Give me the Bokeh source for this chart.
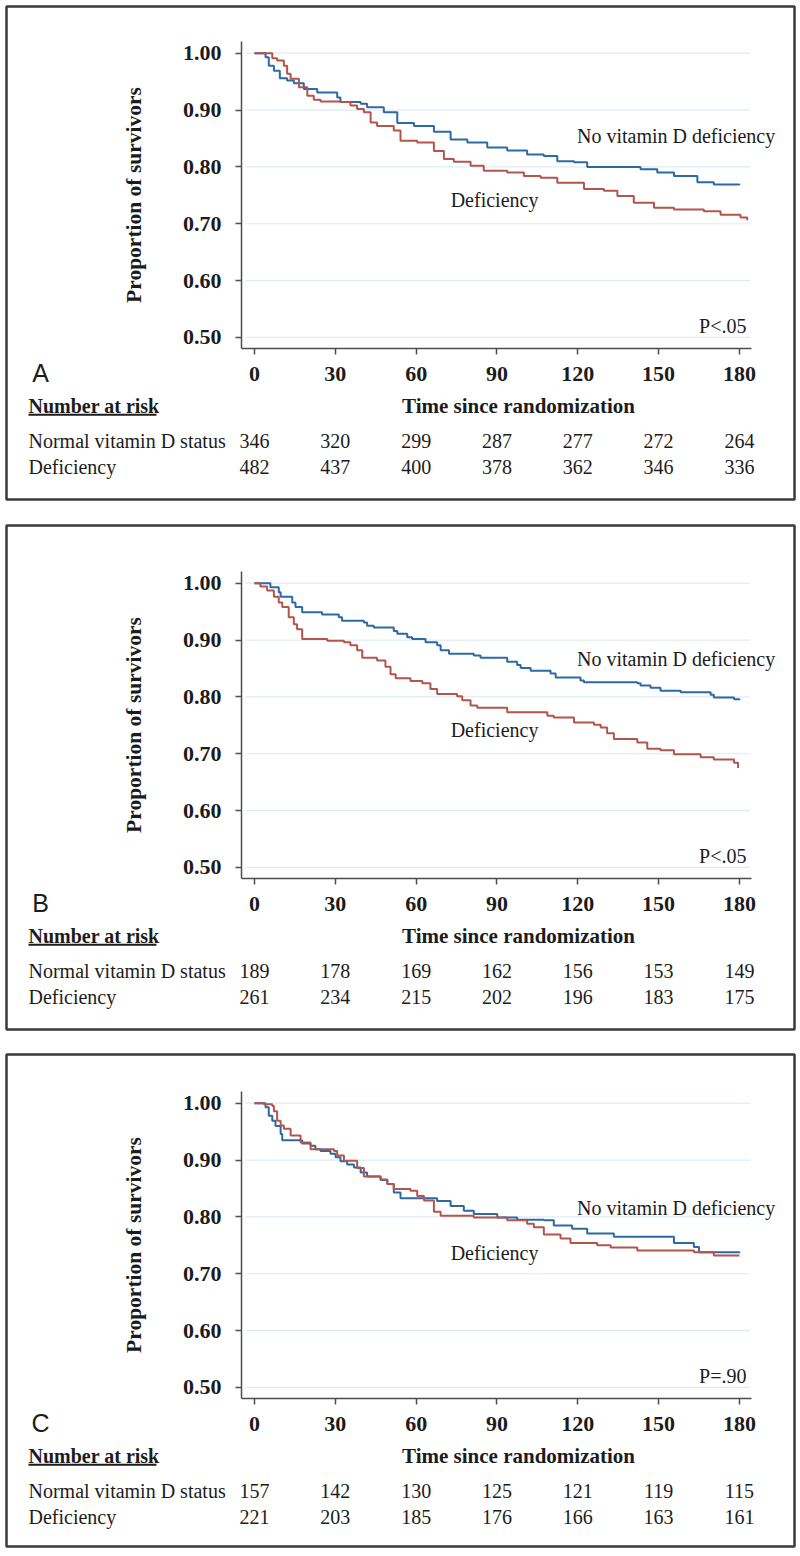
from bokeh.plotting import figure
from bokeh.layouts import column
from bokeh.models import Range1d, FixedTicker, PrintfTickFormatter, LinearAxis
from bokeh.core.properties import value
from bokeh.embed import file_html
from bokeh.resources import INLINE

# ---------------- data ----------------
time_ticks = [0, 30, 60, 90, 120, 150, 180]
surv_ticks = [0.5, 0.6, 0.7, 0.8, 0.9, 1.0]

# Panel A
a_t_normal = [0, 4.1, 5.3, 7.2, 9.4, 12.1, 14.6, 18.3, 23.3, 30.7, 31.9, 39.4, 41.8, 48.0, 53.0,
              59.2, 66.6, 72.8, 79.0, 86.4, 93.8, 101.2, 107.4, 112.4, 118.6, 123.5, 143.3,
              149.5, 155.7, 164.4, 170.5, 180]
a_s_normal = [1.0, 0.993, 0.978, 0.969, 0.956, 0.952, 0.947, 0.937, 0.931, 0.922, 0.914, 0.911,
              0.905, 0.896, 0.877, 0.872, 0.862, 0.848, 0.843, 0.834, 0.829, 0.822, 0.819, 0.810,
              0.808, 0.800, 0.796, 0.790, 0.784, 0.773, 0.769, 0.768]
a_t_defic = [0, 6.6, 8.4, 10.9, 12.1, 13.4, 16.5, 19.6, 22.0, 24.5, 31.9, 35.6, 38.1, 40.6, 43.1,
             45.5, 51.7, 54.2, 60.4, 66.6, 70.3, 74.0, 80.2, 85.1, 93.8, 100.0, 106.2, 112.4,
             122.3, 129.7, 134.7, 140.8, 148.3, 155.7, 166.8, 173.0, 180.4, 182.9]
a_s_defic = [1.0, 0.991, 0.987, 0.978, 0.964, 0.955, 0.940, 0.925, 0.918, 0.915, 0.914, 0.908,
             0.902, 0.896, 0.878, 0.872, 0.864, 0.846, 0.843, 0.828, 0.814, 0.809, 0.802, 0.793,
             0.790, 0.784, 0.781, 0.772, 0.761, 0.758, 0.749, 0.737, 0.728, 0.725, 0.722, 0.716,
             0.711, 0.706]
a_risk_normal = [346, 320, 299, 287, 277, 272, 264]
a_risk_defic = [482, 437, 400, 378, 362, 346, 336]

# Panel B
b_t_normal = [0, 5.9, 9.0, 9.7, 14.0, 15.2, 17.7, 25.1, 31.3, 32.5, 40.6, 41.8, 44.3, 51.7, 53.0,
              56.7, 58.5, 63.5, 67.8, 69.1, 72.2, 81.4, 83.9, 93.8, 97.5, 98.8, 102.5, 109.9,
              111.8, 121.0, 122.3, 142.1, 143.3, 147.0, 150.7, 158.2, 169.3, 170.5, 178.0, 180]
b_s_normal = [1.0, 0.993, 0.984, 0.976, 0.966, 0.958, 0.949, 0.945, 0.940, 0.934, 0.931, 0.925,
              0.922, 0.916, 0.911, 0.905, 0.902, 0.896, 0.891, 0.882, 0.876, 0.873, 0.869, 0.862,
              0.856, 0.851, 0.846, 0.841, 0.834, 0.829, 0.826, 0.824, 0.820, 0.816, 0.811, 0.808,
              0.804, 0.799, 0.796, 0.794]
b_t_defic = [0, 2.2, 4.7, 7.2, 9.0, 10.3, 12.7, 14.6, 15.8, 17.7, 27.0, 33.2, 35.6, 38.1, 40.0,
             45.5, 48.6, 50.5, 52.4, 57.9, 62.3, 65.3, 67.8, 75.2, 77.1, 80.2, 82.7, 93.8, 108.7,
             111.1, 118.6, 126.0, 128.5, 130.9, 133.4, 142.1, 145.8, 150.7, 155.7, 165.6, 170.5,
             178.0, 179.5]
b_s_defic = [1.0, 0.994, 0.987, 0.976, 0.966, 0.958, 0.940, 0.928, 0.919, 0.902, 0.899, 0.896,
             0.891, 0.882, 0.869, 0.864, 0.853, 0.840, 0.833, 0.828, 0.824, 0.814, 0.805, 0.801,
             0.794, 0.785, 0.781, 0.773, 0.767, 0.764, 0.755, 0.751, 0.746, 0.736, 0.726, 0.720,
             0.709, 0.706, 0.699, 0.694, 0.690, 0.684, 0.675]
b_risk_normal = [189, 178, 169, 162, 156, 153, 149]
b_risk_defic = [261, 234, 215, 202, 196, 183, 175]

# Panel C
c_t_normal = [0, 4.1, 5.3, 6.6, 7.8, 9.7, 10.3, 17.7, 20.8, 22.6, 24.5, 28.2, 30.1, 31.9, 34.4,
              36.9, 39.4, 41.8, 46.8, 49.3, 51.7, 54.2, 67.8, 72.8, 77.7, 81.4, 90.1, 97.5, 107.4,
              111.1, 117.9, 123.5, 133.4, 155.7, 163.1, 165.0, 180]
c_s_normal = [1.0, 0.993, 0.978, 0.969, 0.960, 0.946, 0.935, 0.929, 0.925, 0.919, 0.916, 0.911,
              0.905, 0.898, 0.892, 0.887, 0.878, 0.871, 0.865, 0.858, 0.843, 0.833, 0.828, 0.819,
              0.811, 0.805, 0.799, 0.795, 0.794, 0.785, 0.779, 0.771, 0.765, 0.754, 0.747, 0.738,
              0.736]
c_t_defic = [0, 3.5, 6.6, 7.2, 8.4, 9.7, 10.9, 13.4, 17.1, 20.8, 29.5, 30.7, 33.2, 38.1, 40.6,
             46.8, 49.3, 51.7, 57.9, 60.4, 62.9, 66.6, 69.1, 81.4, 93.8, 101.2, 103.7, 107.4,
             113.6, 117.3, 127.2, 132.2, 142.1, 163.1, 170.5, 180]
c_s_defic = [1.0, 0.998, 0.995, 0.986, 0.969, 0.961, 0.955, 0.943, 0.931, 0.919, 0.916, 0.908,
             0.899, 0.886, 0.871, 0.866, 0.858, 0.849, 0.846, 0.837, 0.829, 0.809, 0.802, 0.799,
             0.794, 0.788, 0.782, 0.769, 0.762, 0.754, 0.750, 0.746, 0.741, 0.738, 0.732, 0.732]
c_risk_normal = [157, 142, 130, 125, 121, 119, 115]
c_risk_defic = [221, 203, 185, 176, 166, 163, 161]

p_values = ["P<.05", "P<.05", "P=.90"]
panel_letters = ["A", "B", "C"]
row_names = ["Normal vitamin D status", "Deficiency"]
curve_names = ["No vitamin D deficiency", "Deficiency"]
x_title = "Time since randomization"
y_title = "Proportion of survivors"
risk_title = "Number at risk"

# ---------------- style ----------------
SERIF = "Liberation Serif"
SANS = "Liberation Sans"
BLUE = "#2c69a5"
RED = "#b4554c"
INK = "#1c1c1c"
AXIS = "#4d4d4d"
GRID = "#e0ebf5"
BOX = "#3a3a3a"

X_AX, X_END = -4.83, 184.45      # extent of the x axis (data units)
Y_AX, Y_TOP = 0.48, 1.02         # extent of the y axis
PXU = 568.5                      # pixels per unit of proportion


def below(off):
    """data y for a point `off` pixels below the x axis"""
    return Y_AX - off / PXU


def panel(letter, tn, sn, td, sd, rn, rd, ptxt, yr, top_pad, frame_h, lab_n_y, lab_d_y):
    p = figure(frame_width=788, frame_height=frame_h,
               min_border_left=6, min_border_right=5,
               min_border_top=top_pad, min_border_bottom=5,
               x_range=Range1d(-92.06, 200.45), y_range=Range1d(*yr),
               x_axis_type=None, y_axis_type=None,
               output_backend="svg", toolbar_location=None,
               background_fill_color="white", border_fill_color="white",
               outline_line_color=BOX, outline_line_width=2.5)
    p.xgrid.grid_line_color = None
    p.ygrid.grid_line_color = None

    xa = LinearAxis(fixed_location=Y_AX, bounds=(X_AX, X_END),
                    ticker=FixedTicker(ticks=time_ticks))
    ya = LinearAxis(fixed_location=X_AX, bounds=(Y_AX, Y_TOP),
                    ticker=FixedTicker(ticks=surv_ticks),
                    formatter=PrintfTickFormatter(format="%.2f"))
    for ax in (xa, ya):
        ax.axis_line_color = AXIS
        ax.axis_line_width = 1.5
        ax.major_tick_line_color = AXIS
        ax.major_tick_line_width = 1.5
        ax.major_tick_in = 0
        ax.major_tick_out = 6
        ax.minor_tick_line_color = None
        ax.major_label_text_font = SERIF
        ax.major_label_text_font_style = "bold"
        ax.major_label_text_font_size = "22px"
        ax.major_label_text_color = INK
    xa.major_label_standoff = 12
    ya.major_label_standoff = 14
    ya.axis_label = y_title
    ya.axis_label_text_font = SERIF
    ya.axis_label_text_font_style = "bold"
    ya.axis_label_text_font_size = "21.5px"
    ya.axis_label_text_color = INK
    ya.axis_label_standoff = 34
    p.add_layout(xa, "below")
    p.add_layout(ya, "left")

    # horizontal reference lines at the y ticks
    p.segment(x0=[X_AX + 1.5] * len(surv_ticks), x1=[X_END - 0.5] * len(surv_ticks),
              y0=surv_ticks, y1=surv_ticks, line_color=GRID, line_width=1.2)

    # survival curves
    p.step(tn, sn, mode="after", line_color=BLUE, line_width=2)
    p.step(td, sd, mode="after", line_color=RED, line_width=2)

    def txt(xs, ys, texts, size="20px", font=SERIF, style="normal", align="center"):
        p.text(x=xs, y=ys, text=texts, text_font=value(font), text_font_size=value(size),
               text_font_style=value(style), text_align=align, text_baseline="middle",
               text_color=INK)

    txt([156.5], [lab_n_y], [curve_names[0]])
    txt([89.1], [lab_d_y], [curve_names[1]])
    txt([182.6], [0.521], [ptxt], align="right")

    # below the axis
    txt([-79.4], [below(24)], [letter], size="25px", font=SANS)
    txt([98.0], [below(57)], [x_title], size="21px", style="bold")
    txt([-83.9], [below(57)], [risk_title], size="20px", style="bold", align="left")
    p.segment(x0=[-83.9], x1=[-36.4], y0=[below(66)], y1=[below(66)],
              line_color=INK, line_width=2)
    txt([-83.9, -83.9], [below(92), below(118)], row_names, align="left")
    txt(time_ticks, [below(92)] * len(time_ticks), [str(v) for v in rn])
    txt(time_ticks, [below(118)] * len(time_ticks), [str(v) for v in rd])
    return p


pA = panel(panel_letters[0], a_t_normal, a_s_normal, a_t_defic, a_s_defic,
           a_risk_normal, a_risk_defic, p_values[0], (0.2150, 1.0821), 6, 493, 0.855, 0.741)
pB = panel(panel_letters[1], b_t_normal, b_s_normal, b_t_defic, b_s_defic,
           b_risk_normal, b_risk_defic, p_values[1], (0.2150, 1.1015), 7, 504, 0.867, 0.741)
pC = panel(panel_letters[2], c_t_normal, c_s_normal, c_t_defic, c_s_defic,
           c_risk_normal, c_risk_defic, p_values[2], (0.2202, 1.0857), 6, 492, 0.815, 0.737)

layout = column(pA, pB, pC, spacing=14)
open("out.html", "w").write(file_html(layout, INLINE))
